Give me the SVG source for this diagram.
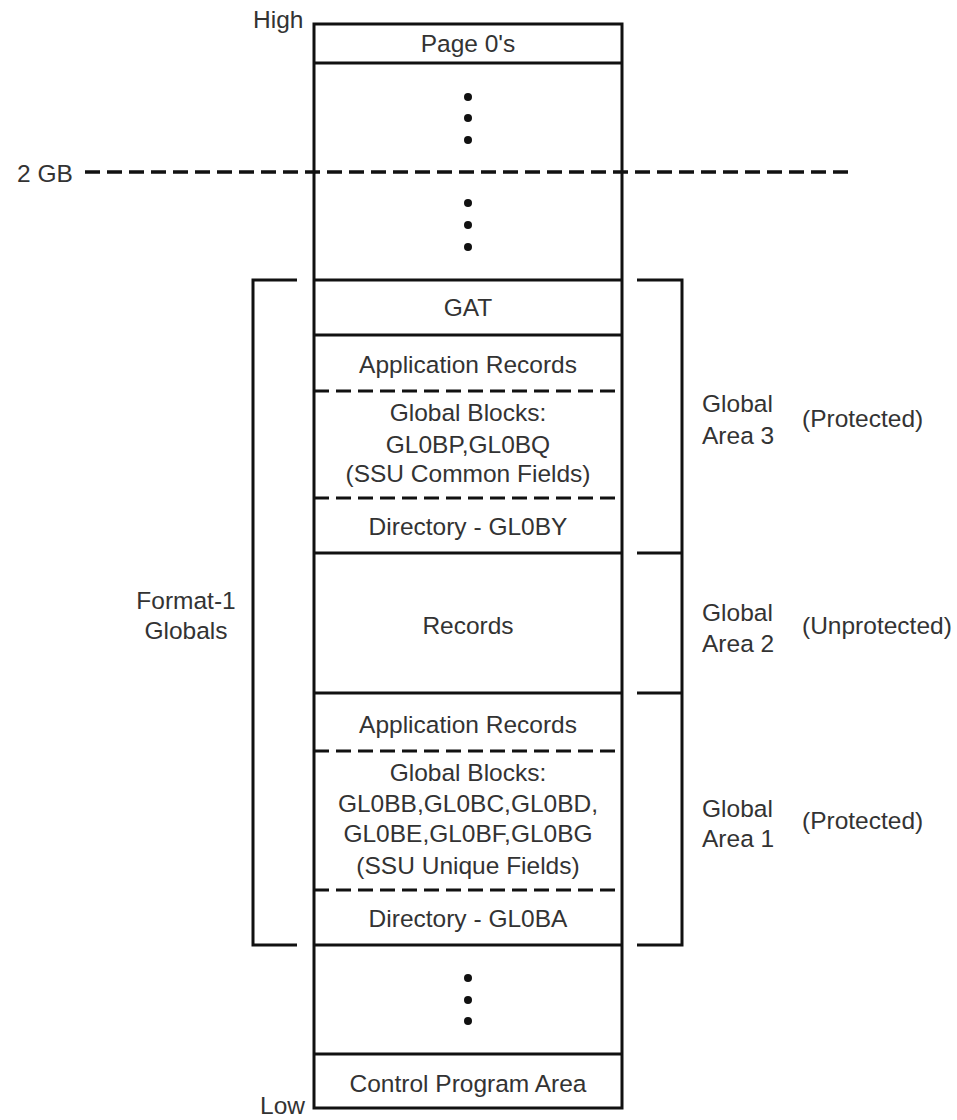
<svg xmlns="http://www.w3.org/2000/svg" width="957" height="1120" viewBox="0 0 957 1120">
<style>
text{font-family:"Liberation Sans",Arial,sans-serif;font-size:24.5px;fill:#333}
.c{text-anchor:middle}
.s{stroke:#111;stroke-width:3;fill:none}
.d{stroke:#111;stroke-width:3;fill:none;stroke-dasharray:15 7}
.d2{stroke:#111;stroke-width:3.5;fill:none;stroke-dasharray:15 7}
.dot{fill:#111}
</style>
<rect width="957" height="1120" fill="#fff"/>
<g id="connectors">
<line class="d2" x1="85" y1="172" x2="855" y2="172"/>
<path id="bracket-left" class="s" d="M297,280 H253 V945 H297"/>
<path id="bracket-right" class="s" d="M637,280 H682 V945 H637 M637,553 H682 M637,693 H682"/>
</g>
<g id="column">
<rect class="s" x="314" y="24" width="308" height="1084"/>
<line class="s" x1="314" y1="63" x2="622" y2="63"/>
<line class="s" x1="314" y1="280" x2="622" y2="280"/>
<line class="s" x1="314" y1="335" x2="622" y2="335"/>
<line class="s" x1="314" y1="553" x2="622" y2="553"/>
<line class="s" x1="314" y1="693" x2="622" y2="693"/>
<line class="s" x1="314" y1="945" x2="622" y2="945"/>
<line class="s" x1="314" y1="1054" x2="622" y2="1054"/>
<line class="d" x1="314" y1="391" x2="622" y2="391"/>
<line class="d" x1="314" y1="498" x2="622" y2="498"/>
<line class="d" x1="314" y1="751" x2="622" y2="751"/>
<line class="d" x1="314" y1="890" x2="622" y2="890"/>
</g>
<g id="page0"><text class="c" x="468" y="52">Page 0's</text></g>
<g id="dots-top">
<circle class="dot" cx="468" cy="97" r="4"/><circle class="dot" cx="468" cy="118" r="4"/><circle class="dot" cx="468" cy="140" r="4"/>
<circle class="dot" cx="468" cy="203" r="4"/><circle class="dot" cx="468" cy="225" r="4"/><circle class="dot" cx="468" cy="247" r="4"/>
</g>
<g id="gat"><text class="c" x="468" y="316">GAT</text></g>
<g id="area3">
<text class="c" x="468" y="373">Application Records</text>
<text class="c" x="468" y="421">Global Blocks:</text>
<text class="c" x="468" y="453">GL0BP,GL0BQ</text>
<text class="c" x="468" y="482">(SSU Common Fields)</text>
<text class="c" x="468" y="535">Directory - GL0BY</text>
</g>
<g id="records"><text class="c" x="468" y="634">Records</text></g>
<g id="area1">
<text class="c" x="468" y="733">Application Records</text>
<text class="c" x="468" y="781">Global Blocks:</text>
<text class="c" x="468" y="812">GL0BB,GL0BC,GL0BD,</text>
<text class="c" x="468" y="842">GL0BE,GL0BF,GL0BG</text>
<text class="c" x="468" y="874">(SSU Unique Fields)</text>
<text class="c" x="468" y="927">Directory - GL0BA</text>
</g>
<g id="dots-bottom">
<circle class="dot" cx="468" cy="978" r="4"/><circle class="dot" cx="468" cy="1000" r="4"/><circle class="dot" cx="468" cy="1021" r="4"/>
</g>
<g id="cpa"><text class="c" x="468" y="1092">Control Program Area</text></g>
<g id="labels">
<text x="253" y="28">High</text>
<text x="260" y="1114">Low</text>
<text x="17" y="182">2 GB</text>
<text class="c" x="186" y="609">Format-1</text>
<text class="c" x="186" y="639">Globals</text>
<text x="702" y="412">Global</text>
<text x="702" y="444">Area 3</text>
<text x="802" y="427">(Protected)</text>
<text x="702" y="621">Global</text>
<text x="702" y="652">Area 2</text>
<text x="802" y="634">(Unprotected)</text>
<text x="702" y="817">Global</text>
<text x="702" y="847">Area 1</text>
<text x="802" y="829">(Protected)</text>
</g>
</svg>
